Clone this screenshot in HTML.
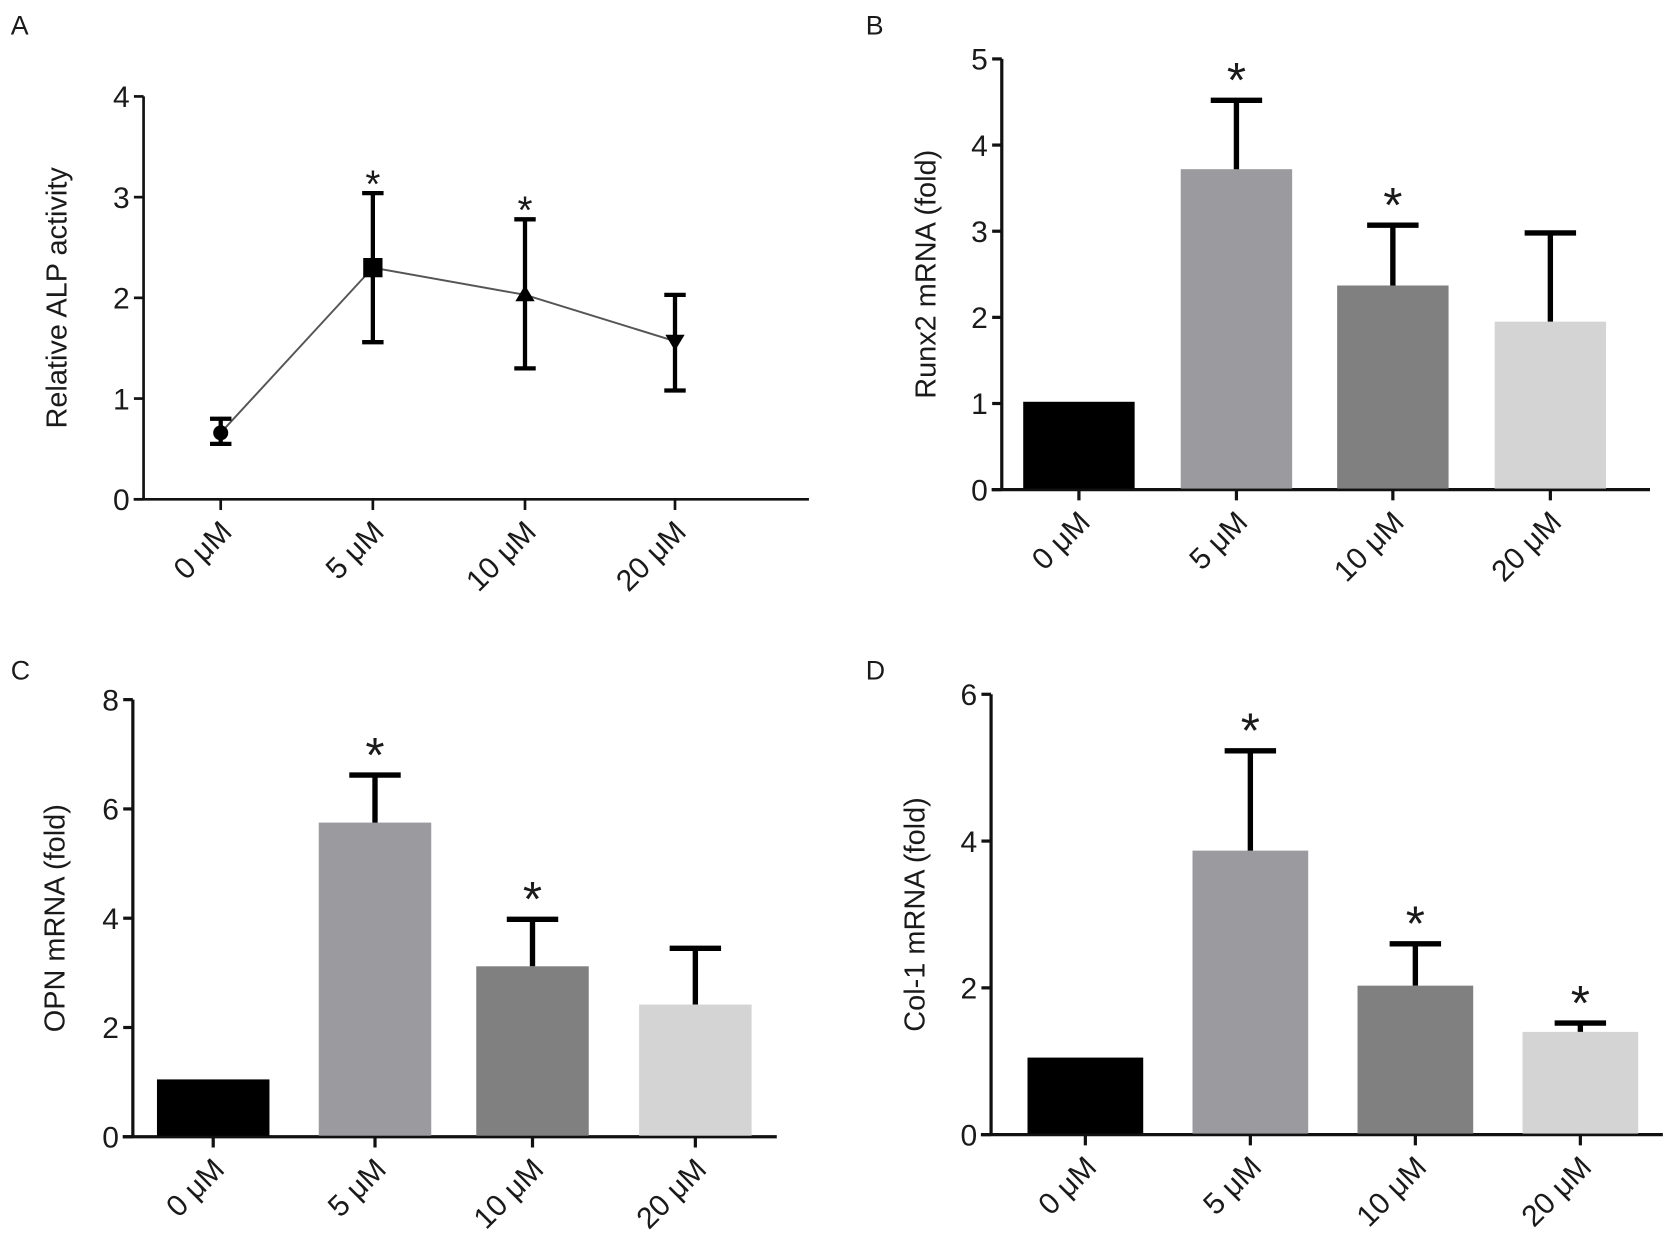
<!DOCTYPE html>
<html><head><meta charset="utf-8"><style>
html,body{margin:0;padding:0;background:#fff;}
svg{display:block;}
text{font-family:"Liberation Sans",Arial,sans-serif;fill:#1a1a1a;}
</style></head><body>
<svg id="fig" width="1680" height="1260" viewBox="0 0 1568 1176" xmlns="http://www.w3.org/2000/svg"></svg>
<script>
const categories = ["0 μM","5 μM","10 μM","20 μM"];
const alpMean = [0.66, 2.30, 2.03, 1.57];
const alpLow  = [0.55, 1.56, 1.30, 1.08];
const alpHigh = [0.80, 3.04, 2.78, 2.03];
const alpSig  = [false, true, true, false];
const runxMean = [1.02, 3.72, 2.37, 1.95];
const runxErr  = [1.02, 4.52, 3.07, 2.98];
const runxSig  = [false, true, true, false];
const opnMean = [1.05, 5.75, 3.12, 2.42];
const opnErr  = [1.05, 6.62, 3.98, 3.45];
const opnSig  = [false, true, true, false];
const colMean = [1.05, 3.87, 2.03, 1.40];
const colErr  = [1.05, 5.23, 2.60, 1.52];
const colSig  = [false, true, true, true];
const ticksA = [0,1,2,3,4];
const ticksB = [0,1,2,3,4,5];
const ticksC = [0,2,4,6,8];
const ticksD = [0,2,4,6];

const NS="http://www.w3.org/2000/svg";
const svg=document.getElementById('fig');
function mk(tag,attrs,parent){const e=document.createElementNS(NS,tag);for(const k in attrs)e.setAttribute(k,attrs[k]);(parent||svg).appendChild(e);return e;}
const barColors=["#000000","#9b9b9f","#808080","#d4d4d4"];

function panel(cfg){
  const g=mk('g',{});
  
  
  const ymax=cfg.ticks[cfg.ticks.length-1];
  const Y=v=>cfg.y0-(cfg.y0-cfg.yTop)*v/ymax;
  const X=i=>cfg.xs[i];
  const lt=mk('text',{x:cfg.lx,y:cfg.ly,'font-size':25},g);lt.textContent=cfg.letter;
  
  
  const ya=mk('line',{x1:cfg.ax,y1:cfg.yTop,x2:cfg.ax,y2:cfg.y0+1,stroke:'#111','stroke-width':cfg.lw},g);
  
  
  const xa=mk('line',{x1:cfg.ax-cfg.lw/2-8,y1:cfg.y0,x2:cfg.xEnd,y2:cfg.y0,stroke:'#111','stroke-width':cfg.lw},g);
  
  
  cfg.ticks.forEach(t=>{
    mk('line',{x1:cfg.ax-9,y1:Y(t),x2:cfg.ax,y2:Y(t),stroke:'#111','stroke-width':cfg.lw},g);
    const tx=mk('text',{x:cfg.ax-13,y:Y(t)+10,'font-size':28,'text-anchor':'end'},g);tx.textContent=t;
    
    
  });
  const cx=cfg.ax-cfg.titleOff, cy=(cfg.y0+cfg.yTop)/2;
  const yt=mk('text',{x:cx,y:cy,'font-size':27,'text-anchor':'middle',transform:`rotate(-90 ${cx} ${cy})`},g);
  yt.textContent=cfg.title;
  
  
  categories.forEach((c,i)=>{
    mk('line',{x1:X(i),y1:cfg.y0,x2:X(i),y2:cfg.y0+10,stroke:'#111','stroke-width':cfg.lw},g);
    const px=X(i)+12, py=cfg.y0+32;
    const t=mk('text',{x:px,y:py,'font-size':28,'text-anchor':'end',transform:`rotate(-45 ${px} ${py})`},g);
    t.textContent=c;
    
    
  });
  return {g,Y,X};
}

(function(){
  const p=panel({letter:'A',lx:10,ly:32,ax:134,y0:466,yTop:90,xEnd:755,lw:2.5,ticks:ticksA,xs:[206,348,490,630],title:'Relative ALP activity',titleOff:72});
  const pts=alpMean.map((v,i)=>p.X(i)+','+p.Y(v)).join(' ');
  const ln=mk('polyline',{points:pts,fill:'none',stroke:'#555','stroke-width':1.8},p.g);
  
  
  alpMean.forEach((v,i)=>{
    const x=p.X(i);
    const eb=mk('path',{d:`M${x},${p.Y(alpLow[i])}V${p.Y(alpHigh[i])}M${x-10},${p.Y(alpLow[i])}H${x+10}M${x-10},${p.Y(alpHigh[i])}H${x+10}`,stroke:'#000','stroke-width':4,fill:'none'},p.g);
    
    
    let m;
    if(i===0) m=mk('circle',{cx:x,cy:p.Y(v),r:7,fill:'#000'},p.g);
    else if(i===1) m=mk('rect',{x:x-9,y:p.Y(v)-9,width:18,height:18,fill:'#000'},p.g);
    else if(i===2) m=mk('polygon',{points:`${x},${p.Y(v)-9} ${x+9},${p.Y(v)+6} ${x-9},${p.Y(v)+6}`,fill:'#000'},p.g);
    else m=mk('polygon',{points:`${x},${p.Y(v)+9} ${x+9},${p.Y(v)-6} ${x-9},${p.Y(v)-6}`,fill:'#000'},p.g);
    
    
    if(alpSig[i]){const s=mk('text',{x:x,y:p.Y(alpHigh[i])+4,'font-size':36,'text-anchor':'middle'},p.g);s.textContent='*';
      
      }
  });
})();

function barPanel(cfg,mean,err,sig){
  const p=panel(cfg);
  mean.forEach((v,i)=>{
    const x=p.X(i);
    const b=mk('rect',{x:x-cfg.bw/2,y:p.Y(v),width:cfg.bw,height:cfg.y0-p.Y(v)-1,fill:barColors[i]},p.g);
    
    
    if(err[i]>v+0.001){
      const eb=mk('path',{d:`M${x},${p.Y(v)}V${p.Y(err[i])}M${x-24},${p.Y(err[i])}H${x+24}`,stroke:'#000','stroke-width':5,fill:'none'},p.g);
      
      
    }
    if(sig[i]){const s=mk('text',{x:x,y:p.Y(err[i])-3,'font-size':46,'text-anchor':'middle'},p.g);s.textContent='*';
      
      }
  });
}
barPanel({letter:'B',lx:808,ly:32,ax:935,y0:457,yTop:55,xEnd:1540,lw:3,bw:104,ticks:ticksB,xs:[1007,1154,1300,1447],title:'Runx2 mRNA (fold)',titleOff:62},runxMean,runxErr,runxSig);
barPanel({letter:'C',lx:10,ly:634,ax:124,y0:1061,yTop:653,xEnd:725,lw:3,bw:105,ticks:ticksC,xs:[199,350,497,649],title:'OPN mRNA (fold)',titleOff:64},opnMean,opnErr,opnSig);
barPanel({letter:'D',lx:808,ly:634,ax:925,y0:1059,yTop:648,xEnd:1552,lw:3,bw:108,ticks:ticksD,xs:[1013,1167,1321,1475],title:'Col-1 mRNA (fold)',titleOff:62},colMean,colErr,colSig);
</script>
</body></html>
